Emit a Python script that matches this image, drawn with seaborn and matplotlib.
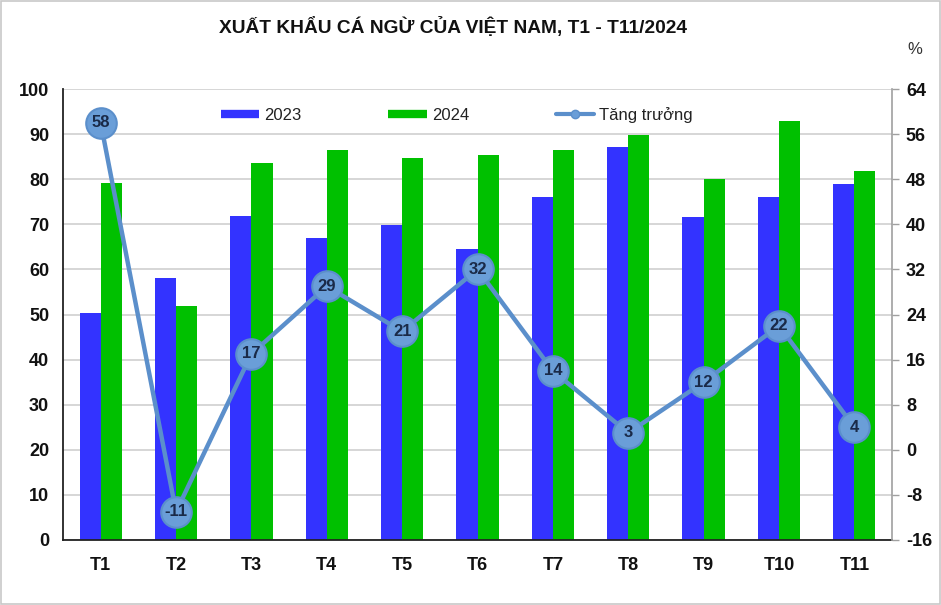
import numpy as np
import pandas as pd
import matplotlib
matplotlib.use("Agg")
import matplotlib.pyplot as plt
from matplotlib.lines import Line2D
from matplotlib.patches import Rectangle
import seaborn as sns

months = ["T1", "T2", "T3", "T4", "T5", "T6", "T7", "T8", "T9", "T10", "T11"]
val_2023 = [50.3, 58.1, 71.8, 67.0, 69.8, 64.5, 76.1, 87.1, 71.6, 76.1, 78.9]
val_2024 = [79.2, 51.9, 83.6, 86.5, 84.7, 85.4, 86.5, 89.8, 80.0, 92.9, 81.8]
growth = [58, -11, 17, 29, 21, 32, 14, 3, 12, 22, 4]
left_ticks = list(range(0, 101, 10))
right_ticks = list(range(-16, 65, 8))
title = "XUẤT KHẨU CÁ NGỪ CỦA VIỆT NAM, T1 - T11/2024"

sns.set_theme(style="white")
plt.rcParams["font.family"] = ["Liberation Sans", "DejaVu Sans"]
plt.rcParams["axes.unicode_minus"] = False

C23 = "#3333ff"
C24 = "#00c000"
CLINE = "#5b8fcb"
CMARK = "#6a9ed8"

df = pd.DataFrame({
    "month": months * 2,
    "year": ["2023"] * len(months) + ["2024"] * len(months),
    "value": val_2023 + val_2024,
})

fig, ax = plt.subplots(figsize=(9.41, 6.05), dpi=100)
fig.subplots_adjust(left=63/941, right=892/941, top=1-89/605, bottom=1-540/605)

sns.barplot(data=df, x="month", y="value", hue="year",
            palette={"2023": C23, "2024": C24}, width=0.56, gap=0,
            saturation=1, legend=False, ax=ax, zorder=2, linewidth=0,
            edgecolor="none")
ax.set_ylim(0, 100)
ax.set_xlim(-0.5, len(months) - 0.5)
ax.set_yticks(left_ticks)
ax.yaxis.grid(True, color="#d0d0d0", linewidth=1.2, zorder=0)
ax.set_axisbelow(True)
ax.set_xlabel("")
ax.set_ylabel("")
for lab in ax.get_xticklabels() + ax.get_yticklabels():
    lab.set_fontweight("bold")
    lab.set_fontsize(13)
    lab.set_color("#111111")
ax.tick_params(axis="x", length=0, pad=12)
ax.tick_params(axis="y", length=0, pad=10)
for s in ["top", "right"]:
    ax.spines[s].set_visible(False)
for s in ["left", "bottom"]:
    ax.spines[s].set_color("#222222")
    ax.spines[s].set_linewidth(1.3)

ax2 = ax.twinx()
xpos = np.arange(len(months))
sns.lineplot(x=xpos, y=growth, ax=ax2, color=CLINE, linewidth=3.2,
             marker="o", markersize=22, markerfacecolor=CMARK,
             markeredgecolor=CLINE, markeredgewidth=1.5, zorder=5)
for xi, g in zip(xpos, growth):
    ax2.text(xi, g, f"{g}", ha="center", va="center", fontsize=12,
             fontweight="bold", color="#1a2a48", zorder=6)
ax2.set_ylim(-16, 64)
ax2.set_yticks(right_ticks)
ax2.set_ylabel("")
for lab in ax2.get_yticklabels():
    lab.set_fontweight("bold")
    lab.set_fontsize(13)
    lab.set_color("#111111")
ax2.tick_params(axis="y", length=5, width=1, color="#a0a0a0", pad=5, direction="out")
for s in ["top", "left", "bottom"]:
    ax2.spines[s].set_visible(False)
ax2.spines["right"].set_color("#a0a0a0")
ax2.spines["right"].set_linewidth(1.2)

fig.text(915/941, 1-50/605, "%", ha="center", va="center", fontsize=12,
         color="#333333")
fig.text(453/941, 1-27/605, title, ha="center", va="center", fontsize=13.8,
         fontweight="bold", color="#111111")

handles = [
    Line2D([0], [0], color=C23, linewidth=6, solid_capstyle="butt"),
    Line2D([0], [0], color=C24, linewidth=6, solid_capstyle="butt"),
    Line2D([0], [0], color=CLINE, linewidth=3, marker="o", markersize=6,
           markerfacecolor=CMARK, markeredgecolor=CLINE),
]
leg = ax2.legend(handles, ["2023", "2024", "Tăng trưởng"], loc="center",
                 bbox_to_anchor=(0.475, 0.942), ncol=3, frameon=False,
                 fontsize=12, handlelength=2.3, handletextpad=0.3,
                 columnspacing=5.2)
for t in leg.get_texts():
    t.set_color("#222222")

fig.patches.append(Rectangle((0.001, 0.002), 0.998, 0.996, transform=fig.transFigure,
                             fill=False, edgecolor="#c8c8c8", linewidth=1.2))

fig.savefig("out.png", dpi=100)
